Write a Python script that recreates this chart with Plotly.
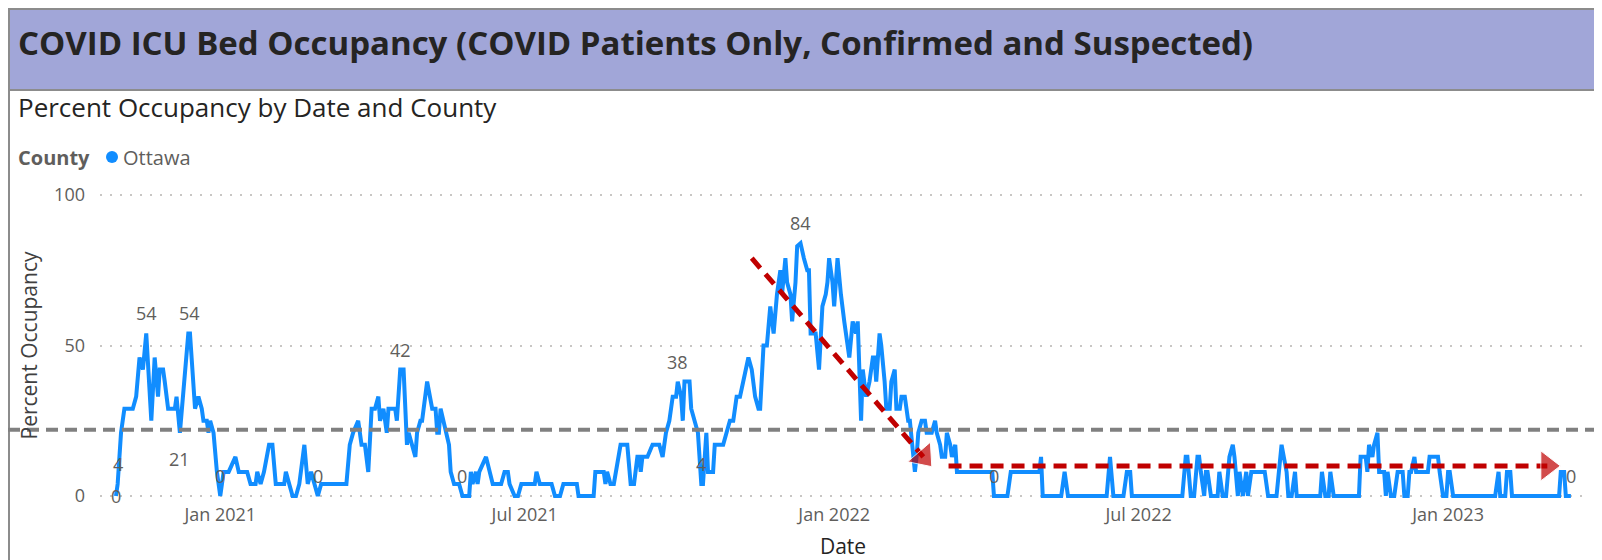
import plotly.graph_objects as go

# daily occupancy breakpoints (percent)
DATES = [
    "2020-10-31", "2020-11-01", "2020-11-03", "2020-11-05", "2020-11-10", "2020-11-12",
    "2020-11-14", "2020-11-16", "2020-11-18", "2020-11-21", "2020-11-23", "2020-11-25",
    "2020-11-26", "2020-11-28", "2020-11-29", "2020-12-01", "2020-12-05", "2020-12-06",
    "2020-12-08", "2020-12-13", "2020-12-14", "2020-12-17", "2020-12-19", "2020-12-21",
    "2020-12-22", "2020-12-24", "2020-12-25", "2020-12-26", "2020-12-28", "2020-12-30",
    "2021-01-01", "2021-01-03", "2021-01-06", "2021-01-10", "2021-01-12", "2021-01-17",
    "2021-01-19", "2021-01-22", "2021-01-23", "2021-01-25", "2021-01-27", "2021-01-30",
    "2021-02-01", "2021-02-03", "2021-02-08", "2021-02-09", "2021-02-11", "2021-02-13",
    "2021-02-15", "2021-02-17", "2021-02-20", "2021-02-22", "2021-02-24", "2021-02-26",
    "2021-02-28", "2021-03-02", "2021-03-17", "2021-03-19", "2021-03-21", "2021-03-24",
    "2021-03-26", "2021-03-28", "2021-03-30", "2021-04-01", "2021-04-03", "2021-04-05",
    "2021-04-06", "2021-04-08", "2021-04-10", "2021-04-11", "2021-04-15", "2021-04-16",
    "2021-04-18", "2021-04-20", "2021-04-22", "2021-04-23", "2021-04-25", "2021-04-27",
    "2021-04-28", "2021-04-30", "2021-05-01", "2021-05-04", "2021-05-07", "2021-05-09",
    "2021-05-10", "2021-05-11", "2021-05-12", "2021-05-15", "2021-05-17", "2021-05-18",
    "2021-05-20", "2021-05-23", "2021-05-25", "2021-05-29", "2021-05-30", "2021-05-31",
    "2021-06-02", "2021-06-03", "2021-06-04", "2021-06-08", "2021-06-10", "2021-06-12",
    "2021-06-17", "2021-06-19", "2021-06-21", "2021-06-22", "2021-06-25", "2021-06-27",
    "2021-06-29", "2021-07-07", "2021-07-08", "2021-07-10", "2021-07-17", "2021-07-19",
    "2021-07-22", "2021-07-24", "2021-08-01", "2021-08-02", "2021-08-11", "2021-08-12",
    "2021-08-17", "2021-08-18", "2021-08-19", "2021-08-21", "2021-08-23", "2021-08-27",
    "2021-08-31", "2021-09-02", "2021-09-04", "2021-09-06", "2021-09-07", "2021-09-08",
    "2021-09-09", "2021-09-12", "2021-09-15", "2021-09-19", "2021-09-21", "2021-09-23",
    "2021-09-25", "2021-09-27", "2021-09-29", "2021-09-30", "2021-10-02", "2021-10-03",
    "2021-10-04", "2021-10-07", "2021-10-08", "2021-10-10", "2021-10-12", "2021-10-14",
    "2021-10-15", "2021-10-17", "2021-10-18", "2021-10-21", "2021-10-22", "2021-10-25",
    "2021-10-27", "2021-10-29", "2021-10-31", "2021-11-02", "2021-11-04", "2021-11-06",
    "2021-11-08", "2021-11-11", "2021-11-13", "2021-11-15", "2021-11-17", "2021-11-18",
    "2021-11-20", "2021-11-22", "2021-11-24", "2021-11-26", "2021-11-28", "2021-11-30",
    "2021-12-01", "2021-12-03", "2021-12-04", "2021-12-06", "2021-12-07", "2021-12-09",
    "2021-12-10", "2021-12-12", "2021-12-14", "2021-12-16", "2021-12-17", "2021-12-18",
    "2021-12-21", "2021-12-23", "2021-12-25", "2021-12-27", "2021-12-28", "2021-12-29",
    "2021-12-31", "2022-01-01", "2022-01-03", "2022-01-04", "2022-01-05", "2022-01-07",
    "2022-01-09", "2022-01-10", "2022-01-12", "2022-01-14", "2022-01-15", "2022-01-17",
    "2022-01-18", "2022-01-19", "2022-01-20", "2022-01-22", "2022-01-24", "2022-01-25",
    "2022-01-26", "2022-01-28", "2022-01-29", "2022-01-31", "2022-02-01", "2022-02-03",
    "2022-02-04", "2022-02-06", "2022-02-07", "2022-02-09", "2022-02-10", "2022-02-12",
    "2022-02-14", "2022-02-15", "2022-02-17", "2022-02-18", "2022-02-19", "2022-02-20",
    "2022-02-22", "2022-02-24", "2022-02-25", "2022-02-28", "2022-03-02", "2022-03-03",
    "2022-03-05", "2022-03-06", "2022-03-08", "2022-03-09", "2022-03-11", "2022-03-12",
    "2022-03-14", "2022-03-15", "2022-04-05", "2022-04-06", "2022-04-14", "2022-04-16",
    "2022-05-03", "2022-05-04", "2022-05-05", "2022-05-16", "2022-05-18", "2022-05-20",
    "2022-06-12", "2022-06-14", "2022-06-16", "2022-06-22", "2022-06-24", "2022-06-26",
    "2022-06-27", "2022-07-27", "2022-07-29", "2022-07-30", "2022-08-01", "2022-08-03",
    "2022-08-05", "2022-08-06", "2022-08-07", "2022-08-09", "2022-08-10", "2022-08-11",
    "2022-08-13", "2022-08-17", "2022-08-18", "2022-08-20", "2022-08-22", "2022-08-24",
    "2022-08-26", "2022-08-27", "2022-08-29", "2022-08-30", "2022-09-01", "2022-09-03",
    "2022-09-04", "2022-09-06", "2022-09-14", "2022-09-16", "2022-09-21", "2022-09-24",
    "2022-09-27", "2022-09-28", "2022-09-30", "2022-10-02", "2022-10-03", "2022-10-17",
    "2022-10-18", "2022-10-20", "2022-10-22", "2022-10-23", "2022-10-25", "2022-11-09",
    "2022-11-10", "2022-11-13", "2022-11-14", "2022-11-15", "2022-11-17", "2022-11-18",
    "2022-11-20", "2022-11-21", "2022-11-24", "2022-11-25", "2022-11-26", "2022-11-28",
    "2022-11-30", "2022-12-02", "2022-12-05", "2022-12-06", "2022-12-08", "2022-12-09",
    "2022-12-10", "2022-12-12", "2022-12-13", "2022-12-20", "2022-12-21", "2022-12-26",
    "2022-12-27", "2022-12-29", "2022-12-31", "2023-01-01", "2023-01-02", "2023-01-04",
    "2023-01-29", "2023-01-31", "2023-02-01", "2023-02-04", "2023-02-05", "2023-02-07",
    "2023-02-08", "2023-03-08", "2023-03-09", "2023-03-11", "2023-03-12", "2023-03-15",
]
PCT = [
    0, 4, 21, 29, 29, 33,
    46, 42, 54, 25, 46, 33,
    42, 42, 38, 29, 29, 33,
    21, 54, 54, 29, 33, 29,
    25, 25, 21, 25, 21, 8,
    0, 8, 8, 13, 8, 8,
    4, 4, 8, 4, 8, 17,
    17, 4, 4, 8, 4, 0,
    0, 4, 17, 4, 8, 4,
    0, 4, 4, 17, 21, 25,
    17, 17, 8, 29, 29, 33,
    25, 29, 21, 29, 29, 25,
    42, 42, 17, 21, 17, 13,
    21, 25, 25, 38, 29, 29,
    21, 21, 29, 21, 17, 8,
    4, 4, 0, 0, 8, 4,
    8, 4, 8, 13, 8, 4,
    4, 8, 8, 4, 0, 0,
    4, 4, 8, 4, 4, 0,
    0, 4, 4, 0, 0, 8,
    8, 4, 8, 4, 4, 17,
    17, 4, 4, 13, 13, 8,
    13, 13, 17, 17, 13, 21,
    25, 33, 33, 38, 33, 25,
    38, 38, 29, 25, 21, 4,
    4, 21, 8, 8, 17, 17,
    17, 21, 25, 25, 33, 33,
    38, 46, 42, 33, 29, 29,
    50, 50, 63, 54, 67, 75,
    67, 79, 71, 67, 58, 71,
    83, 84, 79, 75, 75, 54,
    54, 42, 63, 67, 71, 79,
    71, 63, 79, 71, 67, 58,
    50, 46, 58, 54, 58, 25,
    42, 38, 33, 38, 46, 46,
    38, 54, 50, 38, 29, 29,
    38, 42, 29, 29, 33, 33,
    25, 25, 13, 8, 13, 21,
    25, 25, 21, 21, 25, 21,
    17, 13, 13, 21, 17, 13,
    17, 8, 8, 0, 0, 8,
    8, 13, 0, 0, 8, 0,
    0, 13, 0, 0, 8, 8,
    0, 0, 13, 13, 0, 0,
    13, 13, 8, 0, 8, 8,
    0, 0, 8, 0, 0, 13,
    17, 13, 0, 8, 0, 8,
    0, 8, 8, 0, 0, 17,
    8, 0, 0, 8, 0, 0,
    8, 0, 0, 8, 0, 0,
    13, 13, 8, 17, 13, 17,
    21, 8, 8, 0, 8, 0,
    0, 8, 8, 0, 0, 8,
    8, 13, 8, 8, 13, 13,
    8, 0, 0, 8, 8, 0,
    0, 8, 0, 0, 8, 8,
    0, 0, 8, 8, 0, 0,
]

# data labels shown by the report
LABEL_DATES = ["2020-10-31", "2020-11-01", "2020-11-18", "2020-12-08", "2020-12-14",
               "2021-01-01", "2021-02-28", "2021-04-18", "2021-05-25", "2021-09-30",
               "2021-10-14", "2021-12-12", "2022-04-06", "2023-03-15"]
LABEL_VALUES = [0, 4, 54, 21, 54, 0, 0, 42, 0, 38, 4, 84, 0, 0]
LABEL_SIDE = ["on", "above", "above", "below", "above", "above", "above",
              "above", "above", "above", "above", "above", "above", "above"]

COUNTY = "Ottawa"

# hand-drawn markup on the screenshot
REFERENCE_LEVEL = 22
DOWN_ARROW_DATES = ["2021-11-13", "2022-02-23"]
DOWN_ARROW_VALUES = [79, 13]
FLAT_ARROW_DATES = ["2022-03-10", "2023-03-01"]
FLAT_ARROW_VALUES = [10, 10]

X_TICKS = ["2021-01-01", "2021-07-01", "2022-01-01", "2022-07-01", "2023-01-01"]
X_TICK_TEXT = ["Jan 2021", "Jul 2021", "Jan 2022", "Jul 2022", "Jan 2023"]
Y_TICKS = [0, 50, 100]

BLUE = "#118DFF"
RED = "#C00000"
TEXT_DARK = "#252423"
TEXT_GREY = "#605E5C"
FONT = "Open Sans, sans-serif"

# the page body keeps its default 8px margin, so the figure is sized to fit
# the window and positions below are given in window pixels
BODY_MARGIN = 8
WIN_W, WIN_H = 1602, 560
FIG_W, FIG_H = WIN_W - BODY_MARGIN, WIN_H - BODY_MARGIN
PLOT_L, PLOT_R, PLOT_T, PLOT_B = 100, 1586, 189, 502


def px(x):
    return (x - PLOT_L) / (PLOT_R - PLOT_L)


def py(y):
    return (PLOT_B - y) / (PLOT_B - PLOT_T)


fig = go.Figure()

fig.add_trace(go.Scatter(
    x=DATES, y=PCT, mode="lines",
    line=dict(color=BLUE, width=4),
    name=COUNTY, showlegend=False, hoverinfo="x+y",
))

for xs, ys in [(DOWN_ARROW_DATES, DOWN_ARROW_VALUES), (FLAT_ARROW_DATES, FLAT_ARROW_VALUES)]:
    fig.add_trace(go.Scatter(
        x=xs, y=ys, mode="lines+markers",
        line=dict(color=RED, width=5, dash="13px,8px"),
        marker=dict(symbol="triangle-up", size=[0, 26], angleref="previous", color=RED),
        showlegend=False, hoverinfo="skip", cliponaxis=False,
    ))

shapes = [
    # header banner
    dict(type="rect", xref="paper", yref="paper",
         x0=px(9), x1=px(WIN_W + 4), y0=py(90), y1=py(BODY_MARGIN + 1),
         fillcolor="#A1A6D8", line=dict(color="#8C8C8C", width=2), layer="below"),
    # left frame edge
    dict(type="line", xref="paper", yref="paper",
         x0=px(BODY_MARGIN + 1), x1=px(BODY_MARGIN + 1), y0=py(0), y1=py(WIN_H),
         line=dict(color="#8C8C8C", width=2)),
    # legend dot
    dict(type="circle", xref="paper", yref="paper",
         x0=px(106), x1=px(118), y0=py(163), y1=py(151),
         fillcolor=BLUE, line=dict(width=0)),
    # grey dashed reference line across the whole visual
    dict(type="line", xref="paper", yref="y",
         x0=px(BODY_MARGIN), x1=px(WIN_W), y0=REFERENCE_LEVEL, y1=REFERENCE_LEVEL,
         line=dict(color="#808080", width=4, dash="12px,7px"), layer="above"),
]

annotations = [
    dict(text="<b>COVID ICU Bed Occupancy (COVID Patients Only, Confirmed and Suspected)</b>",
         x=px(16), y=py(42), font=dict(family=FONT, size=33, color=TEXT_DARK)),
    dict(text="Percent Occupancy by Date and County",
         x=px(16), y=py(107), font=dict(family=FONT, size=26, color=TEXT_DARK)),
    dict(text="<b>County</b>", x=px(16), y=py(157),
         font=dict(family=FONT, size=20, color=TEXT_GREY)),
    dict(text=COUNTY, x=px(121), y=py(157),
         font=dict(family=FONT, size=20, color=TEXT_GREY)),
]
for a in annotations:
    a.update(xref="paper", yref="paper", xanchor="left", yanchor="middle", showarrow=False)

side_anchor = {"above": ("bottom", 6), "below": ("top", -12), "on": ("middle", 0)}
for d, v, side in zip(LABEL_DATES, LABEL_VALUES, LABEL_SIDE):
    anchor, shift = side_anchor[side]
    annotations.append(dict(
        text=str(v), x=d, y=v, xref="x", yref="y",
        xanchor="center", yanchor=anchor, yshift=shift, showarrow=False,
        font=dict(family=FONT, size=18, color=TEXT_GREY),
    ))

fig.update_layout(
    width=FIG_W, height=FIG_H,
    margin=dict(l=PLOT_L - BODY_MARGIN, r=WIN_W - PLOT_R, t=PLOT_T - BODY_MARGIN,
                b=WIN_H - PLOT_B, autoexpand=False),
    paper_bgcolor="white", plot_bgcolor="white",
    font=dict(family=FONT, color=TEXT_GREY),
    showlegend=False,
    shapes=shapes, annotations=annotations,
    xaxis=dict(
        type="date", range=["2020-10-21 12:00", "2023-03-24"],
        tickvals=X_TICKS, ticktext=X_TICK_TEXT, automargin=False,
        showgrid=False, zeroline=False, showline=False, ticks="",
        tickfont=dict(family=FONT, size=18, color=TEXT_GREY),
        title=dict(text="Date", standoff=14, font=dict(family=FONT, size=21, color=TEXT_DARK)),
    ),
    yaxis=dict(
        range=[-2, 102], tickvals=Y_TICKS, automargin=False,
        showgrid=True, gridcolor="#C8C6C4", gridwidth=2, griddash="2px,8px",
        zeroline=False, showline=False, ticks="", ticklabelstandoff=14,
        tickfont=dict(family=FONT, size=18, color=TEXT_GREY),
        title=dict(text="Percent Occupancy", standoff=10,
                   font=dict(family=FONT, size=21, color="#404040")),
    ),
)

fig.write_html("out.html")
